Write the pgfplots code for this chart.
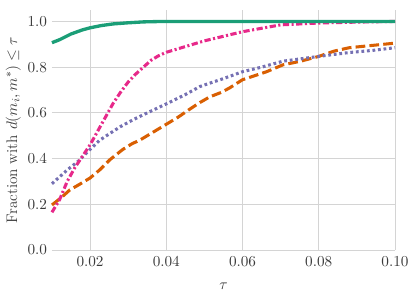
\documentclass[border=0pt]{standalone}
\usepackage{pgfplots}
\pgfplotsset{compat=1.18}
\definecolor{dgreen}{HTML}{1B9E77}
\definecolor{dorange}{HTML}{D95F02}
\definecolor{dpurple}{HTML}{7570B3}
\definecolor{dpink}{HTML}{E7298A}
\definecolor{txt}{HTML}{3A3A3A}
\definecolor{gridc}{HTML}{D4D4D4}
\begin{document}
\begin{tikzpicture}
\begin{axis}[
  name=ax,
  scale only axis,
  width=247pt, height=172.8pt,
  xmin=0.01, xmax=0.10, ymin=0, ymax=1.05,
  axis line style={draw=none},
  major tick length=0pt,
  xtick={0.02,0.04,0.06,0.08,0.10},
  ytick={0,0.2,0.4,0.6,0.8,1.0},
  xticklabel style={yshift=-1.5pt,/pgf/number format/.cd,fixed,fixed zerofill,precision=2},
  yticklabel style={/pgf/number format/.cd,fixed,fixed zerofill,precision=1},
  scaled x ticks=false,
  ticklabel style={text=txt, font=\fontsize{11}{13}\selectfont},
  label style={text=txt, font=\fontsize{11}{13}\selectfont},
  xtick pos=bottom, ytick pos=left,
  grid=major,
  major grid style={gridc, line width=0.7pt},
  xlabel={$\tau$},
  ylabel={Fraction with $d(m_i, m^*) \leq \tau$},
  xlabel style={yshift=-5pt},
  ylabel style={yshift=-2pt},
  clip=false,
]
\addplot[dorange, line width=2.2pt, dash pattern=on 7pt off 3pt] coordinates {
(0.010,0.197) (0.0125,0.23) (0.0147,0.263) (0.017,0.285) (0.020,0.315) (0.0225,0.35)
(0.0252,0.395) (0.0286,0.44) (0.031,0.465) (0.033,0.48) (0.036,0.51)
(0.039,0.54) (0.043,0.58) (0.0465,0.62) (0.0488,0.645) (0.0514,0.67) (0.0545,0.69) (0.0567,0.71) (0.060,0.745) (0.0663,0.78)
(0.0706,0.81) (0.075,0.825) (0.080,0.847) (0.084,0.87) (0.088,0.885) (0.094,0.895) (0.100,0.905)};
\addplot[dpurple, line width=2.2pt, dash pattern=on 2pt off 2pt] coordinates {
(0.010,0.29) (0.012,0.32) (0.014,0.35) (0.017,0.39) (0.020,0.44) (0.0225,0.48) (0.0252,0.51) (0.028,0.54) (0.0313,0.57)
(0.035,0.60) (0.0401,0.64) (0.045,0.68) (0.0488,0.715) (0.0514,0.73) (0.055,0.75) (0.060,0.78) (0.065,0.80) (0.0706,0.826) (0.080,0.847)
(0.088,0.864) (0.094,0.873) (0.100,0.885)};
\addplot[dpink, line width=2.2pt, dash pattern=on 4.5pt off 1.8pt on 1.5pt off 1.8pt] coordinates {
(0.010,0.165) (0.012,0.22) (0.014,0.30) (0.016,0.36) (0.018,0.41) (0.020,0.46)
(0.022,0.52) (0.024,0.58) (0.026,0.64) (0.028,0.69) (0.030,0.735) (0.032,0.77)
(0.034,0.80) (0.036,0.83) (0.038,0.85) (0.040,0.865) (0.045,0.89) (0.050,0.915)
(0.055,0.935) (0.060,0.955) (0.065,0.97) (0.070,0.985) (0.080,0.993) (0.090,0.997) (0.100,1.0)};
\addplot[dgreen, line width=2.4pt] coordinates {
(0.010,0.907) (0.012,0.92) (0.015,0.945) (0.018,0.963) (0.020,0.972) (0.023,0.982)
(0.026,0.989) (0.030,0.994) (0.034,0.998) (0.038,0.9995)
(0.042,1.0) (0.060,1.0) (0.080,1.0) (0.100,1.0)};
\end{axis}
\pgfresetboundingbox
\path (ax.south west) ++(-37.4pt,-33.1pt) coordinate (bl);
\path (ax.north east) ++(14.4pt,7.2pt) coordinate (tr);
\path[use as bounding box] (bl) rectangle (tr);
\end{tikzpicture}
\end{document}
